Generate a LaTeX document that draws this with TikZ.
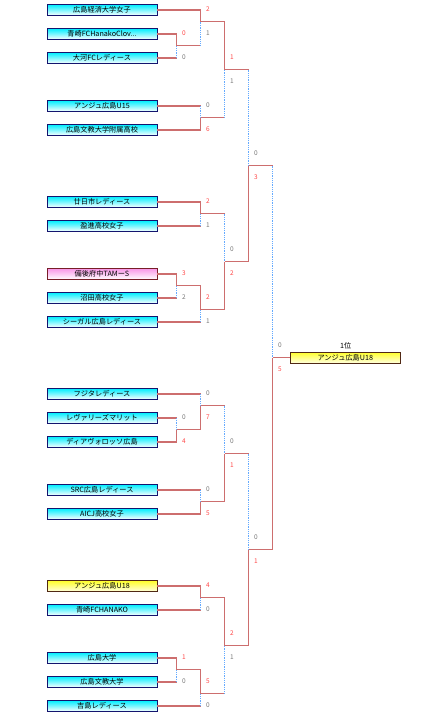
\documentclass[tikz,border=0pt]{standalone}
\usepackage{fontspec}
\setmainfont{Noto Sans CJK JP}
\usepackage{xcolor}
\usepackage{tikz}
\usetikzlibrary{positioning}
\definecolor{teamcyan}{RGB}{0,238,255}
\definecolor{teampink}{RGB}{248,150,232}
\definecolor{teamyellow}{RGB}{255,255,40}
\definecolor{navyedge}{RGB}{20,20,110}
\definecolor{maroonedge}{RGB}{120,30,40}
\definecolor{brownedge}{RGB}{80,40,20}
\definecolor{redline}{RGB}{205,110,110}
\definecolor{blueline}{RGB}{100,170,255}
\definecolor{winred}{RGB}{255,70,70}
\definecolor{losegray}{RGB}{120,120,120}

\begin{document}
\begin{tikzpicture}[x=1pt, y=-1pt,
  team/.style={rectangle, draw=navyedge, line width=0.8pt, top color=teamcyan, bottom color=white, minimum width=110pt, minimum height=11pt, inner sep=0pt, font=\fontsize{7.2}{8}\selectfont},
  pinkteam/.style={team, draw=maroonedge, top color=teampink},
  goldteam/.style={team, draw=brownedge, top color=teamyellow, bottom color=teamyellow!15!white},
  won/.style={draw=redline, line width=1.4pt},
  lost/.style={draw=blueline, line width=1.2pt, dash pattern=on 1pt off 0.8pt},
  wscore/.style={text=winred, inner sep=0pt, font=\fontsize{6.5}{7}\selectfont},
  lscore/.style={text=losegray, inner sep=0pt, font=\fontsize{6.5}{7}\selectfont}
]
\useasboundingbox (0,0) rectangle (446,721);

% Teams
\node[team] (t1) at (102,10) {広島経済大学女子};
\node[team] (t2) at (102,34) {青崎FCHanakoClov...};
\node[team] (t3) at (102,58) {大河FCレディース};
\node[team] (t4) at (102,106) {アンジュ広島U15};
\node[team] (t5) at (102,130) {広島文教大学附属高校};
\node[team] (t6) at (102,202) {廿日市レディース};
\node[team] (t7) at (102,226) {盈進高校女子};
\node[pinkteam] (t8) at (102,274) {備後府中TAMーS};
\node[team] (t9) at (102,298) {沼田高校女子};
\node[team] (t10) at (102,322) {シーガル広島レディース};
\node[team] (t11) at (102,394) {フジタレディース};
\node[team] (t12) at (102,418) {レヴァリーズマリット};
\node[team] (t13) at (102,442) {ディアヴォロッソ広島};
\node[team] (t14) at (102,490) {SRC広島レディース};
\node[team] (t15) at (102,514) {AICJ高校女子};
\node[goldteam] (t16) at (102,586) {アンジュ広島U18};
\node[team] (t17) at (102,610) {青崎FCHANAKO};
\node[team] (t18) at (102,658) {広島大学};
\node[team] (t19) at (102,682) {広島文教大学};
\node[team] (t20) at (102,706) {吉島レディース};

% Champion
\node[goldteam] (champ) at (345.3,357.5) {アンジュ広島U18};
\node[font=\fontsize{7.2}{8}\selectfont, inner sep=0pt] (rank) at (345.7,345.5) {1位};

% Junctions
\coordinate (mA) at (176.7,45.5);
\coordinate (mB) at (200.7,21.5);
\coordinate (mC) at (200.7,117.5);
\coordinate (mD) at (224.7,69.5);
\coordinate (mE) at (200.7,213.5);
\coordinate (mF) at (176.7,285.5);
\coordinate (mG) at (200.7,309.5);
\coordinate (mH) at (224.7,261.5);
\coordinate (semiA) at (248.7,165.5);
\coordinate (mI) at (176.7,429.5);
\coordinate (mJ) at (200.7,405.5);
\coordinate (mK) at (200.7,501.5);
\coordinate (mL) at (224.7,453.5);
\coordinate (mM) at (200.7,597.5);
\coordinate (mN) at (176.7,669.5);
\coordinate (mO) at (200.7,693.5);
\coordinate (mP) at (224.7,645.5);
\coordinate (semiB) at (248.7,549.5);
\coordinate (final) at (272.7,357.5);

% Top half
\draw[won] (t2.east) -| (mA);
\draw[won] (t3.east) -- (t3.east -| mA);
\draw[lost] (t3.east -| mA) -- (mA);

\draw[won] (t1.east) -| (mB);
\draw[won] (mA) -- (mA -| mB);
\draw[lost] (mA -| mB) -- (mB);

\draw[won] (t5.east) -| (mC);
\draw[won] (t4.east) -- (t4.east -| mC);
\draw[lost] (t4.east -| mC) -- (mC);

\draw[won] (mB) -| (mD);
\draw[won] (mC) -- (mC -| mD);
\draw[lost] (mC -| mD) -- (mD);

\draw[won] (t6.east) -| (mE);
\draw[won] (t7.east) -- (t7.east -| mE);
\draw[lost] (t7.east -| mE) -- (mE);

\draw[won] (t8.east) -| (mF);
\draw[won] (t9.east) -- (t9.east -| mF);
\draw[lost] (t9.east -| mF) -- (mF);

\draw[won] (mF) -| (mG);
\draw[won] (t10.east) -- (t10.east -| mG);
\draw[lost] (t10.east -| mG) -- (mG);

\draw[won] (mG) -| (mH);
\draw[won] (mE) -- (mE -| mH);
\draw[lost] (mE -| mH) -- (mH);

\draw[won] (mH) -| (semiA);
\draw[won] (mD) -- (mD -| semiA);
\draw[lost] (mD -| semiA) -- (semiA);

% Bottom half
\draw[won] (t13.east) -| (mI);
\draw[won] (t12.east) -- (t12.east -| mI);
\draw[lost] (t12.east -| mI) -- (mI);

\draw[won] (mI) -| (mJ);
\draw[won] (t11.east) -- (t11.east -| mJ);
\draw[lost] (t11.east -| mJ) -- (mJ);

\draw[won] (t15.east) -| (mK);
\draw[won] (t14.east) -- (t14.east -| mK);
\draw[lost] (t14.east -| mK) -- (mK);

\draw[won] (mK) -| (mL);
\draw[won] (mJ) -- (mJ -| mL);
\draw[lost] (mJ -| mL) -- (mL);

\draw[won] (t16.east) -| (mM);
\draw[won] (t17.east) -- (t17.east -| mM);
\draw[lost] (t17.east -| mM) -- (mM);

\draw[won] (t18.east) -| (mN);
\draw[won] (t19.east) -- (t19.east -| mN);
\draw[lost] (t19.east -| mN) -- (mN);

\draw[won] (mN) -| (mO);
\draw[won] (t20.east) -- (t20.east -| mO);
\draw[lost] (t20.east -| mO) -- (mO);

\draw[won] (mM) -| (mP);
\draw[won] (mO) -- (mO -| mP);
\draw[lost] (mO -| mP) -- (mP);

\draw[won] (mP) -| (semiB);
\draw[won] (mL) -- (mL -| semiB);
\draw[lost] (mL -| semiB) -- (semiB);

% Final
\draw[won] (semiB) -| (final);
\draw[won] (semiA) -- (semiA -| final);
\draw[lost] (semiA -| final) -- (final);
\draw[won] (final) -- (champ.west);

% Scores
\node[wscore] (scA1) at (184,33.5) {0};
\node[lscore] (scA2) at (184,57.5) {0};
\node[wscore] (scB1) at (208,9.5) {2};
\node[lscore] (scB2) at (208,33.5) {1};
\node[lscore] (scC1) at (208,105.5) {0};
\node[wscore] (scC2) at (208,129.5) {6};
\node[wscore] (scD1) at (232,57.5) {1};
\node[lscore] (scD2) at (232,81.5) {1};
\node[lscore] (scSA1) at (256,153.5) {0};
\node[wscore] (scSA2) at (256,177.5) {3};
\node[wscore] (scE1) at (208,201.5) {2};
\node[lscore] (scE2) at (208,225.5) {1};
\node[lscore] (scH1) at (232,249.5) {0};
\node[wscore] (scH2) at (232,273.5) {2};
\node[wscore] (scF1) at (184,273.5) {3};
\node[lscore] (scF2) at (184,297.5) {2};
\node[wscore] (scG1) at (208,297.5) {2};
\node[lscore] (scG2) at (208,321.5) {1};
\node[lscore] (scFin1) at (280,345.5) {0};
\node[wscore] (scFin2) at (280,369.5) {5};
\node[lscore] (scJ1) at (208,393.5) {0};
\node[wscore] (scJ2) at (208,417.5) {7};
\node[lscore] (scI1) at (184,417.5) {0};
\node[wscore] (scI2) at (184,441.5) {4};
\node[lscore] (scL1) at (232,441.5) {0};
\node[wscore] (scL2) at (232,465.5) {1};
\node[lscore] (scK1) at (208,489.5) {0};
\node[wscore] (scK2) at (208,513.5) {5};
\node[lscore] (scSB1) at (256,537.5) {0};
\node[wscore] (scSB2) at (256,561.5) {1};
\node[wscore] (scM1) at (208,585.5) {4};
\node[lscore] (scM2) at (208,609.5) {0};
\node[wscore] (scP1) at (232,633.5) {2};
\node[lscore] (scP2) at (232,657.5) {1};
\node[wscore] (scN1) at (184,657.5) {1};
\node[lscore] (scN2) at (184,681.5) {0};
\node[wscore] (scO1) at (208,681.5) {5};
\node[lscore] (scO2) at (208,705.5) {0};

\end{tikzpicture}
\end{document}
